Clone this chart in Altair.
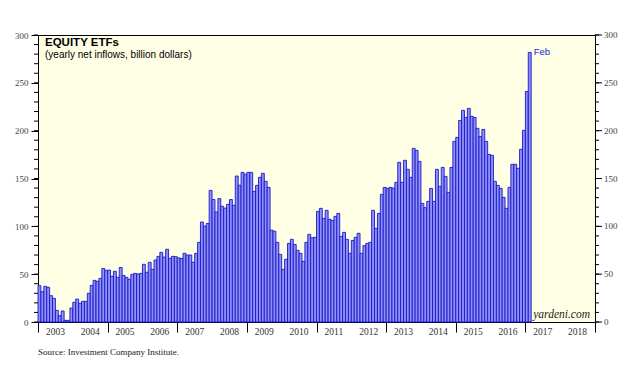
import altair as alt
import pandas as pd

# Yearly net inflows into equity ETFs, billion dollars (12-month sums, monthly)
v2003 = [38, 31.7, 37.3, 36.2, 27.5, 24.7, 12.2, 6.6, 11.5, 1.7, 1.7, 14.6]
v2004 = [20.6, 24, 19.5, 21.6, 21.6, 30, 38.3, 43.5, 42.5, 45.6, 56, 54]
v2005 = [54.3, 47.7, 53, 46.7, 57, 48.7, 46.7, 44.6, 49.8, 50.8, 50.2, 50.8]
v2006 = [60.3, 52, 62.4, 55, 64.8, 68.6, 72.8, 67.9, 76, 66.5, 68.6, 68.3]
v2007 = [67, 66.5, 71.8, 70, 70, 62.4, 71.8, 83.2, 104.5, 100.3, 103, 137.6]
v2008 = [128, 115, 129, 121, 119, 123, 128, 122, 152.6, 143, 156.4, 154.5]
v2009 = [156.4, 156.4, 136.5, 142.8, 151.2, 155.4, 147, 140.7, 96, 95, 83.2, 70.7]
v2010 = [55, 65.5, 82.2, 86.4, 81, 74.9, 71.8, 63.4, 83.2, 91.6, 88, 88.5]
v2011 = [115.6, 118.8, 108.3, 116.7, 107.3, 106.2, 110.4, 113.5, 89.5, 93.7, 86.4, 71.8]
v2012 = [85.3, 88.5, 92.7, 71.8, 79.8, 82.2, 83.2, 116.7, 97.9, 113.5, 133.4, 140.7]
v2013 = [139.7, 140.7, 140, 146, 166.9, 146, 169, 159.6, 151.2, 181.5, 179.4, 167.9]
v2014 = [124, 119.5, 126.1, 139.7, 126.1, 159.6, 141.8, 161.6, 152.2, 135.5, 161.6, 188.8]
v2015 = [193, 210.7, 221.2, 213.9, 223.3, 215, 213.9, 202.4, 194, 201.3, 188.8, 175.2]
v2016 = [174.2, 147, 142.8, 139.7, 130.3, 118.8, 140.7, 164.8, 164.8, 160.6, 180.5, 200.3]
v2017 = [241, 281.8]

first_year = 2003
year_ticks = list(range(2003, 2020))
year_labels = [str(y) for y in range(2003, 2019)]
y_major = [0, 50, 100, 150, 200, 250, 300]
y_minor = list(range(0, 301, 10))
last_label = "Feb"

values = (v2003 + v2004 + v2005 + v2006 + v2007 + v2008 + v2009 + v2010 +
          v2011 + v2012 + v2013 + v2014 + v2015 + v2016 + v2017)

df = pd.DataFrame({
    "x": [first_year + i / 12 for i in range(len(values))],
    "x2": [first_year + (i + 1) / 12 for i in range(len(values))],
    "v": values,
})

W, H = 557, 287
SERIF = "Liberation Serif"
SANS = "Liberation Sans"

xscale = alt.Scale(domain=[2003, 2019], nice=False, zero=False)
yscale = alt.Scale(domain=[0, 300], nice=False)

bars = alt.Chart(df).mark_bar(
    fill="#9090F8", stroke="#1818C8", strokeWidth=0.9
).encode(
    x=alt.X("x:Q", scale=xscale, axis=alt.Axis(
        values=year_ticks, title=None, grid=False, tickSize=10, tickColor="black",
        domainColor="black", labels=False)),
    x2="x2:Q",
    y=alt.Y("v:Q", scale=yscale, axis=alt.Axis(
        values=y_major, orient="left", title=None, grid=False, domain=False,
        tickSize=7, tickColor="black", labelPadding=3,
        labelFont=SERIF, labelFontSize=9, labelColor="#444444")),
    y2=alt.datum(0),
)

year_df = pd.DataFrame({"x": [int(s) + 0.5 for s in year_labels], "lab": year_labels})
year_text = alt.Chart(year_df).mark_text(
    font=SERIF, fontSize=9.5, color="#333333", align="center", baseline="middle"
).encode(x="x:Q", y=alt.value(H + 10), text="lab:N")

minor_df = pd.DataFrame({"v": y_minor})
major_df = pd.DataFrame({"v": y_major, "lab": [str(t) for t in y_major]})

minor_left = alt.Chart(minor_df).mark_rule(color="black", strokeWidth=1).encode(
    y="v:Q", x=alt.value(-4), x2=alt.value(0))
minor_right = alt.Chart(minor_df).mark_rule(color="black", strokeWidth=1).encode(
    y="v:Q", x=alt.value(W), x2=alt.value(W + 4))
major_right = alt.Chart(major_df).mark_rule(color="black", strokeWidth=1).encode(
    y="v:Q", x=alt.value(W), x2=alt.value(W + 7))
labels_right = alt.Chart(major_df).mark_text(
    font=SERIF, fontSize=9, color="#444444", align="left", baseline="middle"
).encode(y="v:Q", x=alt.value(W + 9), text="lab:N")

dummy = pd.DataFrame({"a": [0]})
title = alt.Chart(dummy).mark_text(
    text="EQUITY ETFs", font=SANS, fontSize=11.5, fontWeight="bold",
    align="left", baseline="alphabetic", color="black"
).encode(x=alt.value(7), y=alt.value(11))
subtitle = alt.Chart(dummy).mark_text(
    text="(yearly net inflows, billion dollars)", font=SANS, fontSize=10,
    align="left", baseline="alphabetic", color="black"
).encode(x=alt.value(7), y=alt.value(22.5))
brand = alt.Chart(dummy).mark_text(
    text="yardeni.com", font=SERIF, fontSize=11.5, fontStyle="italic",
    align="right", baseline="alphabetic", color="#222222"
).encode(x=alt.value(552), y=alt.value(282.5))
source = alt.Chart(dummy).mark_text(
    text="Source: Investment Company Institute.", font=SERIF, fontSize=9,
    align="left", baseline="alphabetic", color="#222222"
).encode(x=alt.value(0), y=alt.value(320))

last_df = pd.DataFrame({"x": df["x2"].tail(1).values, "v": df["v"].tail(1).values,
                        "lab": [last_label]})
feb = alt.Chart(last_df).mark_text(
    font=SANS, fontSize=9.5, align="left", baseline="middle", dx=2.5, color="#2222DD"
).encode(x="x:Q", y="v:Q", text="lab:N")

chart = alt.layer(
    bars, year_text, minor_left, minor_right, major_right, labels_right,
    feb, title, subtitle, brand, source
).properties(
    width=W, height=H,
    autosize=alt.AutoSizeParams(type="none"),
    padding={"left": 30, "top": 27, "right": 36, "bottom": 40},
    background="white",
).configure_view(
    stroke="black", strokeWidth=1, fill="#FFFFE6"
)

chart.save("out.html", embed_options={"renderer": "svg", "actions": False})
